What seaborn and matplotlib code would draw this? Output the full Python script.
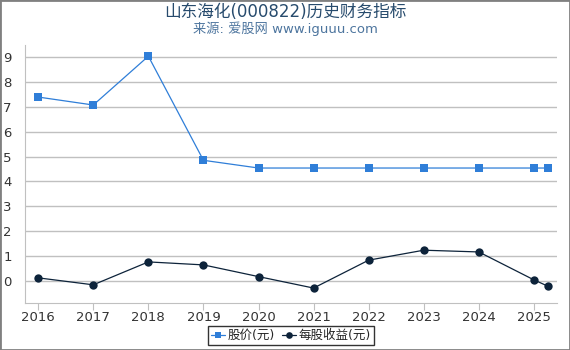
import matplotlib
matplotlib.use("Agg")
import matplotlib.pyplot as plt
import seaborn as sns
import pandas as pd

years = [2016, 2017, 2018, 2019, 2020, 2021, 2022, 2023, 2024, 2025, 2025.25]
price = [7.39, 7.07, 9.03, 4.85, 4.54, 4.54, 4.54, 4.54, 4.54, 4.54, 4.54]
eps = [0.13, -0.15, 0.77, 0.65, 0.18, -0.28, 0.84, 1.24, 1.17, 0.05, -0.20]
xticks = [2016, 2017, 2018, 2019, 2020, 2021, 2022, 2023, 2024, 2025]
yticks = [0, 1, 2, 3, 4, 5, 6, 7, 8, 9]

sns.set_style("white")
plt.rcParams['font.family'] = ['DejaVu Sans', 'Noto Sans CJK SC']

df = pd.DataFrame({"year": years, "price": price, "eps": eps})

fig = plt.figure(figsize=(5.7, 3.5), dpi=100)
ax = fig.add_axes([25/570, 1 - 303/350, 532/570, 258/350])

sns.lineplot(data=df, x="year", y="price", ax=ax, color="#2f7ed8", lw=0.9,
             marker="s", markersize=6, markeredgewidth=0, label="股价(元)")
sns.lineplot(data=df, x="year", y="eps", ax=ax, color="#0d233a", lw=0.9,
             marker="o", markersize=6, markeredgewidth=0, label="每股收益(元)")

ax.set_xlim(2015.76, 2025.42)
ax.set_ylim(-0.88, 9.48)
ax.set_xticks(xticks)
ax.set_xticklabels([str(x) for x in xticks])
ax.set_yticks(yticks)
ax.grid(axis="y", color="#c0c0c0", lw=1)
ax.set_axisbelow(True)
ax.set_xlabel("")
ax.set_ylabel("")
for s in ["top", "right"]:
    ax.spines[s].set_visible(False)
ax.spines["left"].set_color("#c0c0c0")
ax.spines["bottom"].set_color("#c0c0c0")
ax.tick_params(axis="x", bottom=True, length=5, color="#c0c0c0", labelsize=9.5,
               labelcolor="#333333", pad=1)
ax.tick_params(axis="y", left=False, labelsize=9.5, labelcolor="#333333", pad=6)

leg = ax.legend(loc="upper center", bbox_to_anchor=(0.5, -0.089), ncol=2,
                frameon=True, fancybox=False, edgecolor="black", fontsize=9,
                handlelength=1.1, handletextpad=0.25, columnspacing=0.55,
                borderpad=0.25, borderaxespad=0, markerscale=0.8)
leg.get_frame().set_linewidth(1)

fig.text(0.5, 1 - 12/350, "山东海化(000822)历史财务指标", ha="center", va="center",
         fontsize=12, color="#274b6d")
fig.text(0.5, 1 - 29/350, "来源: 爱股网 www.iguuu.com", ha="center", va="center",
         fontsize=9.5, color="#4d759e")

fig.patches.append(plt.Rectangle((0, 0), 1, 1, transform=fig.transFigure,
                                 fill=False, edgecolor="#808080", lw=2))

fig.savefig("out.png", dpi=100)
